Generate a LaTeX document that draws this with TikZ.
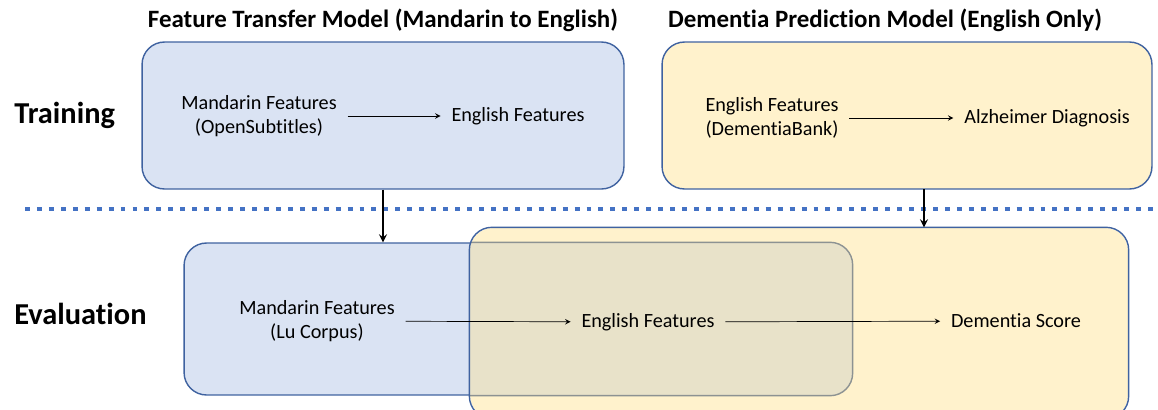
\documentclass[tikz,border=0pt]{standalone}
\usepackage{fontspec}
\setmainfont[Ligatures=NoCommon]{Carlito}
\usetikzlibrary{arrows}
\definecolor{boxblue}{HTML}{DAE3F3}
\definecolor{boxyellow}{HTML}{FFF2CC}
\definecolor{boxline}{HTML}{3F62A0}
\definecolor{mixfill}{HTML}{E8E2C9}
\definecolor{mixline}{HTML}{8C9292}
\definecolor{dotblue}{HTML}{4472C4}
\tikzset{
  modelbox/.style={draw=boxline, line width=0.8pt, rounded corners=0.45cm, inner sep=0pt},
  txt/.style={font=\fontsize{11.5}{13.8}\selectfont, align=center, inner sep=6pt},
  ttl/.style={font=\fontsize{14.2}{17}\selectfont\bfseries},
  phase/.style={font=\fontsize{17.3}{21}\selectfont\bfseries, anchor=west, inner sep=0pt}
}
\begin{document}
\begin{tikzpicture}[x=0.02cm, y=-0.02cm, line join=round, >=stealth]
	\useasboundingbox (0,0) rectangle (1158,409);
	\clip (0,0) rectangle (1158,409);
	% titles
	\node[ttl] (ttran) at (383,20) {Feature Transfer Model (Mandarin to English)};
	\node[ttl] (tdem) at (885,20) {Dementia Prediction Model (English Only)};
	\node[phase] (train) at (14,115) {Training};
	\node[phase] (eval) at (14,314) {Evaluation};
	% training boxes
	\node[modelbox, fill=boxblue, minimum width=9.64cm, minimum height=2.94cm] (bt) at (383,115.5) {};
	\node[modelbox, fill=boxyellow, minimum width=9.8cm, minimum height=2.94cm] (yt) at (907,115.5) {};
	% separator
	\draw[dotblue, line width=2.8pt, dash pattern=on 2.8pt off 4pt] (25,209) -- (1158,209);
	% evaluation boxes
	\node[modelbox, fill=boxblue, minimum width=13.36cm, minimum height=3.04cm] (be) at (518,319) {};
	\node[modelbox, fill=boxyellow, draw=none, minimum width=13.16cm, minimum height=3.8cm] (ye) at (799,323) {};
	\begin{scope}
		\clip[rounded corners=0.45cm] (ye.south west) rectangle (ye.north east);
		\draw[fill=mixfill, draw=mixline, line width=0.8pt, rounded corners=0.45cm] (be.south west) rectangle (be.north east);
	\end{scope}
	\draw[boxline, line width=0.8pt, rounded corners=0.45cm] (ye.south west) rectangle (ye.north east);
	% texts
	\node[txt] (mt) at (259,116) {Mandarin Features\\(OpenSubtitles)};
	\node[txt] (et) at (518,116) {English Features};
	\node[txt] (edb) at (772,118) {English Features\\(DementiaBank)};
	\node[txt] (ad) at (1047,118) {Alzheimer Diagnosis};
	\node[txt] (ml) at (317,321) {Mandarin Features\\(Lu Corpus)};
	\node[txt] (ee) at (648,322) {English Features};
	\node[txt] (ds) at (1016,321) {Dementia Score};
	% arrows
	\draw[->] (mt) -- (et);
	\draw[->] (edb) -- (ad);
	\draw[->] (ml) -- (ee);
	\draw[->] (ee) -- (ds);
	\coordinate (ya) at (924,189);
	\draw[->, line width=1pt] (bt.south) -- (be.north -| bt.south);
	\draw[->, line width=1pt] (ya) -- (ye.north -| ya);
\end{tikzpicture}
\end{document}
